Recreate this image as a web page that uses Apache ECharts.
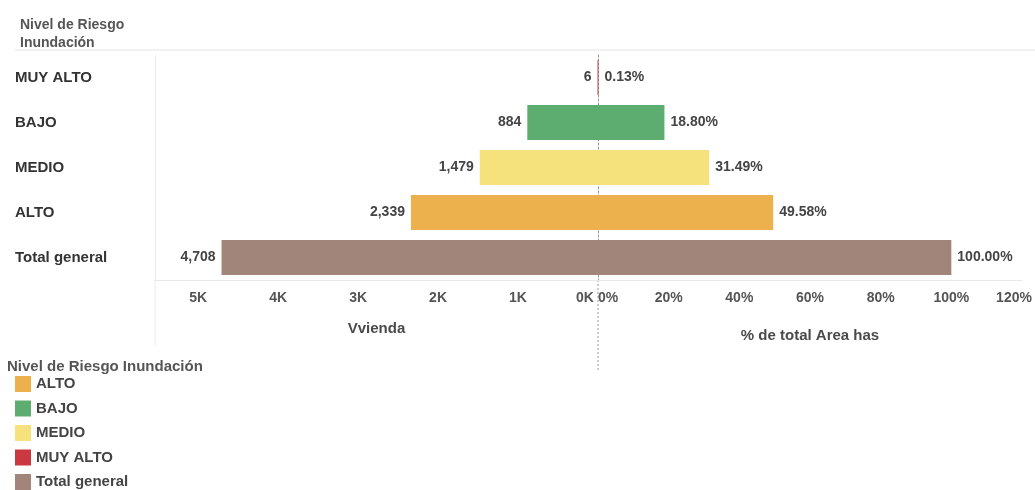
<!DOCTYPE html>
<html>
<head>
<meta charset="utf-8">
<script src="https://cdn.jsdelivr.net/npm/echarts@6/dist/echarts.min.js"></script>
<style>
  html, body {margin: 0; padding: 0; background: #fff;}
  #chart {width: 1035px; height: 490px;}
</style>
</head>
<body>
<div id="chart"></div>
<script>
// categorias (de arriba hacia abajo)
var categorias = ['MUY ALTO', 'BAJO', 'MEDIO', 'ALTO', 'Total general'];
var vivienda = [6, 884, 1479, 2339, 4708];          // eje izquierdo
var pctArea = [0.13, 18.80, 31.49, 49.58, 100.00];  // eje derecho, %
var ordenLeyenda = ['ALTO', 'BAJO', 'MEDIO', 'MUY ALTO', 'Total general'];
var colores = {
    'ALTO': '#ecb04c',
    'BAJO': '#5cad6f',
    'MEDIO': '#f6e27c',
    'MUY ALTO': '#c9393f',
    'Total general': '#a2857a'
};

var fuente = 'Liberation Sans, Arial, sans-serif';
var txt = {fontFamily: fuente, fontSize: 15, fontWeight: 'bold', color: '#4a4a4a'};
var tick = {fontFamily: fuente, fontSize: 14, fontWeight: 'bold', color: '#555'};

//serie por categoria, para que la leyenda tenga sus colores
function buildSeries(valores, idx, fmt, pos) {
    var out = [];
    for (var i = 0; i < categorias.length; i++) {
        var d = [];
        for (var j = 0; j < categorias.length; j++) {
            d.push(j == i ? valores[j] : '-');
        }
        out.push({
            name: categorias[i],
            type: 'bar',
            stack: 'g' + idx,
            xAxisIndex: idx,
            yAxisIndex: idx,
            barWidth: 35,
            itemStyle: {color: colores[categorias[i]]},
            label: {
                show: true,
                position: pos,
                distance: 6,
                fontFamily: fuente,
                fontSize: 14,
                fontWeight: 'bold',
                color: '#444',
                formatter: fmt
            },
            data: d
        });
    }
    return out;
}

var series = buildSeries(vivienda, 0, function (p) {
    return Number(p.value).toLocaleString('en-US');
}, 'left').concat(buildSeries(pctArea, 1, function (p) {
    return Number(p.value).toFixed(2) + '%';
}, 'right'));

var option = {
    animation: false,
    backgroundColor: '#fff',
    title: [
        {text: 'Nivel de Riesgo\nInundación', left: 15, top: 11,
            textStyle: {fontFamily: fuente, fontSize: 14, fontWeight: 'bold', color: '#555', lineHeight: 18}},
        {text: 'Nivel de Riesgo Inundación', left: 2, top: 354,
            textStyle: {fontFamily: fuente, fontSize: 15, fontWeight: 'bold', color: '#555'}}
    ],
    legend: {
        orient: 'vertical',
        left: 10,
        top: 371,
        height: 200,
        itemWidth: 16,
        itemHeight: 16,
        itemGap: 8.5,
        icon: 'rect',
        data: ordenLeyenda,
        selectedMode: false,
        textStyle: {fontFamily: fuente, fontSize: 15, fontWeight: 'bold', color: '#444'}
    },
    grid: [
        {left: 155, right: 437, top: 55, bottom: 210},
        {left: 598, right: 13, top: 55, bottom: 210}
    ],
    xAxis: [
        {
            gridIndex: 0, type: 'value', inverse: true, min: 0, max: 5540, interval: 1000,
            name: 'Vvienda', nameLocation: 'middle', nameGap: 41,
            nameTextStyle: txt,
            axisLine: {show: true, lineStyle: {color: '#e8e8e8'}},
            axisTick: {show: false},
            splitLine: {show: false},
            axisLabel: {
                margin: 11, showMaxLabel: false, fontFamily: fuente, fontSize: 14, fontWeight: 'bold', color: '#555',
                formatter: function (v) {
                    return v === 0 ? '{z|0K}' : (v / 1000) + 'K';
                },
                rich: {z: Object.assign({padding: [0, 26, 0, 0]}, tick)}
            }
        },
        {
            gridIndex: 1, type: 'value', min: 0, max: 120, interval: 20,
            name: '% de total Area has', nameLocation: 'middle', nameGap: 48,
            nameTextStyle: txt,
            axisLine: {show: true, lineStyle: {color: '#e8e8e8'}},
            axisTick: {show: false},
            splitLine: {show: false},
            axisLabel: {
                margin: 11, fontFamily: fuente, fontSize: 14, fontWeight: 'bold', color: '#555',
                formatter: function (v) {
                    if (v === 0) return '{z|0%}';
                    if (v === 120) return '{f|120%}';
                    return v + '%';
                },
                rich: {
                    z: Object.assign({padding: [0, 0, 0, 20]}, tick),
                    f: Object.assign({padding: [0, 16, 0, 0]}, tick)
                }
            }
        }
    ],
    yAxis: [
        {
            gridIndex: 0, type: 'category', data: categorias, inverse: true,
            axisLine: {show: true, onZero: false, lineStyle: {color: '#ececec'}},
            axisTick: {show: false},
            axisLabel: {align: 'left', margin: 140, padding: [0, 0, 14, 0],
                fontFamily: fuente, fontSize: 15, fontWeight: 'bold', color: '#333'}
        },
        {
            gridIndex: 1, type: 'category', data: categorias, inverse: true,
            axisLine: {show: true, onZero: false, lineStyle: {color: '#999', type: [2, 2]}},
            axisTick: {show: false},
            axisLabel: {show: false}
        }
    ],
    graphic: [
        {type: 'line', shape: {x1: 15, y1: 50, x2: 1035, y2: 50}, style: {stroke: '#e4e4e4', lineWidth: 1}},
        {type: 'line', shape: {x1: 598, y1: 280, x2: 598, y2: 372}, style: {stroke: '#999', lineWidth: 1, lineDash: [2, 2]}},
        {type: 'line', shape: {x1: 155, y1: 280, x2: 155, y2: 345}, style: {stroke: '#ececec', lineWidth: 1}}
    ],
    series: series
};

var chart = echarts.init(document.getElementById('chart'));
chart.setOption(option);
</script>
</body>
</html>
